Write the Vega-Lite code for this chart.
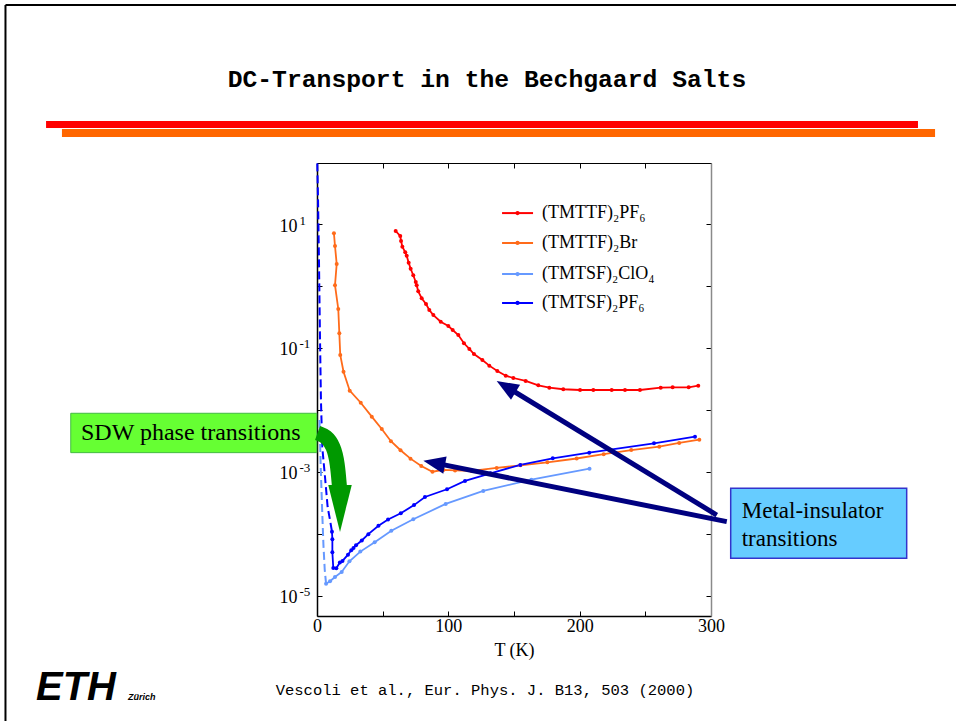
{
  "$schema": "https://vega.github.io/schema/vega-lite/v6.json",
  "width": 394,
  "height": 453,
  "autosize": {"type": "none"},
  "padding": {"left": 317, "top": 163, "right": 245, "bottom": 105},
  "background": "white",
  "config": {"view": {"stroke": null}, "font": "Liberation Serif"},
  "datasets": {
    "curves": [
      {"series": "(TMTTF)₂PF₆", "T": 59.9, "R": 7.71}, {"series": "(TMTTF)₂PF₆", "T": 63.4, "R": 6.40}, {"series": "(TMTTF)₂PF₆", "T": 64.0, "R": 5.32}, {"series": "(TMTTF)₂PF₆", "T": 65.0, "R": 4.31}, {"series": "(TMTTF)₂PF₆", "T": 67.2, "R": 3.50}, {"series": "(TMTTF)₂PF₆", "T": 68.3, "R": 3.08}, {"series": "(TMTTF)₂PF₆", "T": 69.8, "R": 2.38}, {"series": "(TMTTF)₂PF₆", "T": 71.3, "R": 1.90}, {"series": "(TMTTF)₂PF₆", "T": 73.3, "R": 1.49}, {"series": "(TMTTF)₂PF₆", "T": 75.2, "R": 1.16}, {"series": "(TMTTF)₂PF₆", "T": 75.9, "R": 1.03}, {"series": "(TMTTF)₂PF₆", "T": 77.1, "R": 0.820}, {"series": "(TMTTF)₂PF₆", "T": 79.7, "R": 0.634}, {"series": "(TMTTF)₂PF₆", "T": 83.0, "R": 0.513}, {"series": "(TMTTF)₂PF₆", "T": 85.5, "R": 0.410}, {"series": "(TMTTF)₂PF₆", "T": 88.6, "R": 0.340}, {"series": "(TMTTF)₂PF₆", "T": 94.2, "R": 0.265}, {"series": "(TMTTF)₂PF₆", "T": 100.0, "R": 0.226}, {"series": "(TMTTF)₂PF₆", "T": 103.3, "R": 0.195}, {"series": "(TMTTF)₂PF₆", "T": 107.6, "R": 0.162}, {"series": "(TMTTF)₂PF₆", "T": 111.9, "R": 0.119}, {"series": "(TMTTF)₂PF₆", "T": 116.0, "R": 0.0964}, {"series": "(TMTTF)₂PF₆", "T": 119.5, "R": 0.080}, {"series": "(TMTTF)₂PF₆", "T": 125.9, "R": 0.064}, {"series": "(TMTTF)₂PF₆", "T": 131.2, "R": 0.0519}, {"series": "(TMTTF)₂PF₆", "T": 137.3, "R": 0.0426}, {"series": "(TMTTF)₂PF₆", "T": 143.7, "R": 0.0357}, {"series": "(TMTTF)₂PF₆", "T": 149.5, "R": 0.0328}, {"series": "(TMTTF)₂PF₆", "T": 158.9, "R": 0.0294}, {"series": "(TMTTF)₂PF₆", "T": 168.5, "R": 0.0250}, {"series": "(TMTTF)₂PF₆", "T": 176.9, "R": 0.0229}, {"series": "(TMTTF)₂PF₆", "T": 187.5, "R": 0.0216}, {"series": "(TMTTF)₂PF₆", "T": 200.3, "R": 0.0210}, {"series": "(TMTTF)₂PF₆", "T": 210.4, "R": 0.0210}, {"series": "(TMTTF)₂PF₆", "T": 224.4, "R": 0.0210}, {"series": "(TMTTF)₂PF₆", "T": 234.5, "R": 0.0210}, {"series": "(TMTTF)₂PF₆", "T": 245.9, "R": 0.0210}, {"series": "(TMTTF)₂PF₆", "T": 261.7, "R": 0.0229}, {"series": "(TMTTF)₂PF₆", "T": 270.8, "R": 0.0232}, {"series": "(TMTTF)₂PF₆", "T": 283.0, "R": 0.0232}, {"series": "(TMTTF)₂PF₆", "T": 290.3, "R": 0.0247},
      {"series": "(TMTTF)₂Br", "T": 12.9, "R": 7.08}, {"series": "(TMTTF)₂Br", "T": 13.7, "R": 4.42}, {"series": "(TMTTF)₂Br", "T": 15.0, "R": 2.26}, {"series": "(TMTTF)₂Br", "T": 13.7, "R": 1.03}, {"series": "(TMTTF)₂Br", "T": 16.2, "R": 0.426}, {"series": "(TMTTF)₂Br", "T": 17.0, "R": 0.173}, {"series": "(TMTTF)₂Br", "T": 17.7, "R": 0.0771}, {"series": "(TMTTF)₂Br", "T": 20.2, "R": 0.0415}, {"series": "(TMTTF)₂Br", "T": 24.9, "R": 0.0205}, {"series": "(TMTTF)₂Br", "T": 33.3, "R": 0.0131}, {"series": "(TMTTF)₂Br", "T": 41.7, "R": 0.0078}, {"series": "(TMTTF)₂Br", "T": 49.3, "R": 0.00494}, {"series": "(TMTTF)₂Br", "T": 56.3, "R": 0.00314}, {"series": "(TMTTF)₂Br", "T": 63.6, "R": 0.00224}, {"series": "(TMTTF)₂Br", "T": 71.2, "R": 0.00164}, {"series": "(TMTTF)₂Br", "T": 79.4, "R": 0.00125}, {"series": "(TMTTF)₂Br", "T": 87.9, "R": 0.00101}, {"series": "(TMTTF)₂Br", "T": 96.2, "R": 0.00108}, {"series": "(TMTTF)₂Br", "T": 105.1, "R": 0.00106}, {"series": "(TMTTF)₂Br", "T": 117.8, "R": 0.00104}, {"series": "(TMTTF)₂Br", "T": 136.8, "R": 0.00116}, {"series": "(TMTTF)₂Br", "T": 155.0, "R": 0.00128}, {"series": "(TMTTF)₂Br", "T": 175.4, "R": 0.00143}, {"series": "(TMTTF)₂Br", "T": 197.7, "R": 0.00165}, {"series": "(TMTTF)₂Br", "T": 218.3, "R": 0.00194}, {"series": "(TMTTF)₂Br", "T": 239.3, "R": 0.00226}, {"series": "(TMTTF)₂Br", "T": 260.6, "R": 0.00256}, {"series": "(TMTTF)₂Br", "T": 275.8, "R": 0.00294}, {"series": "(TMTTF)₂Br", "T": 291.1, "R": 0.00332},
      {"series": "(TMTSF)₂ClO₄", "T": 6.9, "R": 1.58e-5}, {"series": "(TMTSF)₂ClO₄", "T": 9.9, "R": 1.73e-5}, {"series": "(TMTSF)₂ClO₄", "T": 13.7, "R": 2.02e-5}, {"series": "(TMTSF)₂ClO₄", "T": 18.8, "R": 2.44e-5}, {"series": "(TMTSF)₂ClO₄", "T": 24.7, "R": 3.63e-5}, {"series": "(TMTSF)₂ClO₄", "T": 33.0, "R": 5.19e-5}, {"series": "(TMTSF)₂ClO₄", "T": 43.9, "R": 7.38e-5}, {"series": "(TMTSF)₂ClO₄", "T": 56.6, "R": 1.13e-4}, {"series": "(TMTSF)₂ClO₄", "T": 73.3, "R": 1.73e-4}, {"series": "(TMTSF)₂ClO₄", "T": 98.0, "R": 3.05e-4}, {"series": "(TMTSF)₂ClO₄", "T": 126.6, "R": 4.94e-4}, {"series": "(TMTSF)₂ClO₄", "T": 163.2, "R": 7.52e-4}, {"series": "(TMTSF)₂ClO₄", "T": 207.5, "R": 1.13e-3},
      {"series": "(TMTSF)₂PF₆", "T": 11.4, "R": 1.09e-4}, {"series": "(TMTSF)₂PF₆", "T": 11.7, "R": 8.22e-5}, {"series": "(TMTSF)₂PF₆", "T": 11.7, "R": 5.07e-5}, {"series": "(TMTSF)₂PF₆", "T": 12.4, "R": 2.83e-5}, {"series": "(TMTSF)₂PF₆", "T": 14.7, "R": 2.80e-5}, {"series": "(TMTSF)₂PF₆", "T": 17.4, "R": 3.47e-5}, {"series": "(TMTSF)₂PF₆", "T": 19.4, "R": 3.67e-5}, {"series": "(TMTSF)₂PF₆", "T": 23.6, "R": 4.64e-5}, {"series": "(TMTSF)₂PF₆", "T": 26.1, "R": 5.46e-5}, {"series": "(TMTSF)₂PF₆", "T": 27.8, "R": 5.94e-5}, {"series": "(TMTSF)₂PF₆", "T": 29.7, "R": 6.57e-5}, {"series": "(TMTSF)₂PF₆", "T": 34.1, "R": 7.85e-5}, {"series": "(TMTSF)₂PF₆", "T": 39.1, "R": 9.93e-5}, {"series": "(TMTSF)₂PF₆", "T": 46.8, "R": 1.36e-4}, {"series": "(TMTSF)₂PF₆", "T": 54.1, "R": 1.71e-4}, {"series": "(TMTSF)₂PF₆", "T": 63.8, "R": 2.16e-4}, {"series": "(TMTSF)₂PF₆", "T": 73.9, "R": 2.92e-4}, {"series": "(TMTSF)₂PF₆", "T": 82.2, "R": 3.95e-4}, {"series": "(TMTSF)₂PF₆", "T": 99.0, "R": 5.26e-4}, {"series": "(TMTSF)₂PF₆", "T": 112.7, "R": 7.16e-4}, {"series": "(TMTSF)₂PF₆", "T": 132.1, "R": 9.53e-4}, {"series": "(TMTSF)₂PF₆", "T": 154.8, "R": 1.30e-3}, {"series": "(TMTSF)₂PF₆", "T": 179.5, "R": 1.66e-3}, {"series": "(TMTSF)₂PF₆", "T": 207.3, "R": 2.05e-3}, {"series": "(TMTSF)₂PF₆", "T": 256.6, "R": 2.90e-3}, {"series": "(TMTSF)₂PF₆", "T": 287.8, "R": 3.71e-3}
    ],
    "dashed": [
      {"series": "(TMTSF)₂PF₆", "T": 0.2, "R": 95}, {"series": "(TMTSF)₂PF₆", "T": 0.8, "R": 24.4}, {"series": "(TMTSF)₂PF₆", "T": 1.5, "R": 2.6}, {"series": "(TMTSF)₂PF₆", "T": 2.3, "R": 0.135}, {"series": "(TMTSF)₂PF₆", "T": 3.0, "R": 0.0145}, {"series": "(TMTSF)₂PF₆", "T": 4.0, "R": 2.53e-3}, {"series": "(TMTSF)₂PF₆", "T": 6.1, "R": 8.3e-4}, {"series": "(TMTSF)₂PF₆", "T": 8.1, "R": 2.72e-4}, {"series": "(TMTSF)₂PF₆", "T": 9.9, "R": 1.68e-4}, {"series": "(TMTSF)₂PF₆", "T": 11.4, "R": 1.09e-4},
      {"series": "(TMTSF)₂ClO₄", "T": 1.9, "R": 6.9e-3}, {"series": "(TMTSF)₂ClO₄", "T": 2.9, "R": 1.08e-3}, {"series": "(TMTSF)₂ClO₄", "T": 4.0, "R": 2.18e-4}, {"series": "(TMTSF)₂ClO₄", "T": 4.9, "R": 6.65e-5}, {"series": "(TMTSF)₂ClO₄", "T": 5.9, "R": 2.62e-5}, {"series": "(TMTSF)₂ClO₄", "T": 6.9, "R": 1.58e-5}
    ],
    "legendRows": [
      {"series": "(TMTTF)₂PF₆", "T": 140.9, "T2": 164.5, "Tm": 152.7, "Tl": 171.3, "R": 15.0},
      {"series": "(TMTTF)₂Br", "T": 140.9, "T2": 164.5, "Tm": 152.7, "Tl": 171.3, "R": 4.94},
      {"series": "(TMTSF)₂ClO₄", "T": 140.9, "T2": 164.5, "Tm": 152.7, "Tl": 171.3, "R": 1.56},
      {"series": "(TMTSF)₂PF₆", "T": 140.9, "T2": 164.5, "Tm": 152.7, "Tl": 171.3, "R": 0.532}
    ]
  },
  "encoding": {
    "x": {"field": "T", "type": "quantitative", "scale": {"domain": [0, 300], "nice": false, "zero": false}, "axis": null},
    "y": {"field": "R", "type": "quantitative", "scale": {"type": "log", "domain": [4.75e-6, 96.4], "nice": false}, "axis": null}
  },
  "layer": [
    {
      "data": {"values": [
        {"T": -237.2, "T2": -237.2, "R": 34000, "R2": 9.6e-8},
        {"T": -237.2, "T2": 486.6, "R": 34000, "R2": 34000}
      ]},
      "mark": {"type": "rule", "color": "black", "strokeWidth": 2},
      "encoding": {"x2": {"field": "T2"}, "y2": {"field": "R2"}}
    },
    {
      "data": {"values": [{"T": -206.3, "T2": 457.6, "R": 402.7}]},
      "mark": {"type": "rule", "color": "#ff0000", "strokeWidth": 7, "strokeCap": "butt"},
      "encoding": {"x2": {"field": "T2"}}
    },
    {
      "data": {"values": [{"T": -194.2, "T2": 470.6, "R": 293.7}]},
      "mark": {"type": "rule", "color": "#ff6600", "strokeWidth": 8, "strokeCap": "butt"},
      "encoding": {"x2": {"field": "T2"}}
    },
    {
      "data": {"name": "dashed"},
      "mark": {"type": "line", "strokeDash": [8, 4], "strokeWidth": 2},
      "encoding": {
        "x": {"field": "T", "type": "quantitative", "scale": {"domain": [0, 300], "nice": false, "zero": false},
              "axis": {"orient": "top", "values": [0, 50, 100, 150, 200, 250, 300], "labels": false, "title": null, "tickSize": -5, "tickColor": "black", "domainColor": "black", "domainWidth": 1.2, "grid": false}},
        "y": {"field": "R", "type": "quantitative", "scale": {"type": "log", "domain": [4.75e-6, 96.4], "nice": false},
              "axis": {"orient": "right", "values": [10, 1, 0.1, 0.01, 0.001, 0.0001, 0.00001], "labels": false, "title": null, "tickSize": -5, "tickColor": "black", "domainColor": "#8a8a8a", "domainWidth": 1.5, "grid": false}},
        "stroke": {"field": "series", "type": "nominal", "legend": null,
                  "scale": {"domain": ["(TMTTF)₂PF₆", "(TMTTF)₂Br", "(TMTSF)₂ClO₄", "(TMTSF)₂PF₆"], "range": ["#ff0000", "#ff6b1a", "#6699ff", "#0000ff"]}},
        "order": {"value": null}
      }
    },
    {
      "data": {"name": "curves"},
      "mark": {"type": "line", "strokeWidth": 1.8},
      "encoding": {
        "x": {"field": "T", "type": "quantitative", "scale": {"domain": [0, 300], "nice": false, "zero": false},
              "axis": {"orient": "bottom", "values": [0, 50, 100, 150, 200, 250, 300], "labelExpr": "datum.value % 100 === 0 ? datum.label : ''",
                       "title": "T (K)", "titleFont": "Liberation Serif", "titleFontSize": 18, "titleFontWeight": "normal", "titleColor": "black", "titlePadding": 6,
                       "labelFont": "Liberation Serif", "labelFontSize": 18, "labelColor": "black", "labelPadding": 6, "labelFlush": false, "labelOverlap": false,
                       "tickSize": -5, "tickColor": "black", "domainColor": "black", "domainWidth": 1.5, "grid": false}},
        "y": {"field": "R", "type": "quantitative", "scale": {"type": "log", "domain": [4.75e-6, 96.4], "nice": false},
              "axis": {"orient": "left", "values": [10, 1, 0.1, 0.01, 0.001, 0.0001, 0.00001],
                       "labelExpr": "abs(round(log(datum.value)/LN10)) % 2 === 1 ? '10' : ''",
                       "title": null, "labelFont": "Liberation Serif", "labelFontSize": 18, "labelColor": "black", "labelPadding": 43, "labelAlign": "left", "labelOffset": 2, "labelFlush": false, "labelOverlap": false,
                       "tickSize": -5, "tickColor": "black", "domainColor": "black", "domainWidth": 1.5, "grid": false}},
        "color": {"field": "series", "type": "nominal", "legend": null,
                  "scale": {"domain": ["(TMTTF)₂PF₆", "(TMTTF)₂Br", "(TMTSF)₂ClO₄", "(TMTSF)₂PF₆"], "range": ["#ff0000", "#ff6b1a", "#6699ff", "#0000ff"]}},
        "order": {"value": null}
      }
    },
    {
      "data": {"name": "curves"},
      "mark": {"type": "point", "filled": true, "size": 16, "opacity": 1},
      "encoding": {
        "y": {"field": "R", "type": "quantitative", "scale": {"type": "log", "domain": [4.75e-6, 96.4], "nice": false},
              "axis": {"orient": "left", "values": [10, 0.1, 0.001, 0.00001],
                       "labelExpr": "round(log(datum.value)/LN10) === 1 ? '1' : '-' + abs(round(log(datum.value)/LN10))",
                       "title": null, "labelFont": "Liberation Serif", "labelFontSize": 13, "labelColor": "black", "labelPadding": 18, "labelAlign": "left", "labelOffset": -4, "labelFlush": false, "labelOverlap": false,
                       "ticks": false, "domain": false, "grid": false}},
        "fill": {"field": "series", "type": "nominal", "legend": null,
                  "scale": {"domain": ["(TMTTF)₂PF₆", "(TMTTF)₂Br", "(TMTSF)₂ClO₄", "(TMTSF)₂PF₆"], "range": ["#ff0000", "#ff6b1a", "#6699ff", "#0000ff"]}}
      }
    },
    {
      "data": {"name": "legendRows"},
      "mark": {"type": "rule", "strokeWidth": 2},
      "encoding": {
        "x2": {"field": "T2"},
        "color": {"field": "series", "type": "nominal", "legend": null,
                  "scale": {"domain": ["(TMTTF)₂PF₆", "(TMTTF)₂Br", "(TMTSF)₂ClO₄", "(TMTSF)₂PF₆"], "range": ["#ff0000", "#ff6b1a", "#6699ff", "#0000ff"]}}
      }
    },
    {
      "data": {"name": "legendRows"},
      "mark": {"type": "point", "filled": true, "size": 18, "opacity": 1},
      "encoding": {
        "x": {"field": "Tm", "type": "quantitative", "scale": {"domain": [0, 300], "nice": false, "zero": false}, "axis": null},
        "fill": {"field": "series", "type": "nominal", "legend": null,
                  "scale": {"domain": ["(TMTTF)₂PF₆", "(TMTTF)₂Br", "(TMTSF)₂ClO₄", "(TMTSF)₂PF₆"], "range": ["#ff0000", "#ff6b1a", "#6699ff", "#0000ff"]}}
      }
    },
    {
      "data": {"name": "legendRows"},
      "mark": {"type": "text", "align": "left", "baseline": "middle", "font": "Liberation Serif", "fontSize": 18, "color": "black"},
      "encoding": {
        "x": {"field": "Tl", "type": "quantitative", "scale": {"domain": [0, 300], "nice": false, "zero": false}, "axis": null},
        "text": {"field": "series"}
      }
    },
    {
      "data": {"values": [{"T": -187.5, "T2": -0.2, "R": 8.85e-3, "R2": 2.05e-3}]},
      "mark": {"type": "rect", "fill": "#66ff33", "stroke": "#44bb44", "strokeWidth": 1},
      "encoding": {"x2": {"field": "T2"}, "y2": {"field": "R2"}}
    },
    {
      "data": {"values": [{"label": "SDW phase transitions", "T": -179.7, "R": 4.26e-3}]},
      "mark": {"type": "text", "align": "left", "baseline": "middle", "font": "Liberation Serif", "fontSize": 24, "color": "black"},
      "encoding": {"text": {"field": "label"}}
    },
    {
      "data": {"values": [{"T": 315.0, "T2": 449.0, "R": 5.46e-4, "R2": 4.06e-5}]},
      "mark": {"type": "rect", "fill": "#66ccff", "stroke": "#3333cc", "strokeWidth": 1.5},
      "encoding": {"x2": {"field": "T2"}, "y2": {"field": "R2"}}
    },
    {
      "data": {"values": [{"label": "Metal-insulator\ntransitions", "T": 323.4, "R": 1.79e-4}]},
      "mark": {"type": "text", "align": "left", "baseline": "alphabetic", "font": "Liberation Serif", "fontSize": 23, "lineHeight": 28, "lineBreak": "\n", "color": "black"},
      "encoding": {"text": {"field": "label"}}
    },
    {
      "data": {"values": [
        {"arrow": "a", "T": 304.4, "R": 2.02e-4}, {"arrow": "a", "T": 144.0, "R": 0.0238},
        {"arrow": "b", "T": 312.0, "R": 1.58e-4}, {"arrow": "b", "T": 89.2, "R": 1.40e-3}
      ]},
      "mark": {"type": "line", "color": "#000080", "strokeWidth": 5, "strokeCap": "butt"},
      "encoding": {"detail": {"field": "arrow"}, "order": {"value": null}}
    },
    {
      "data": {"values": [{"T": 144.0, "R": 0.0238}]},
      "mark": {"type": "point", "shape": "M0,-1L0.8,1L-0.8,1Z", "filled": true, "color": "#000080", "opacity": 1, "size": 484, "angle": 301},
      "encoding": {}
    },
    {
      "data": {"values": [{"T": 89.2, "R": 1.40e-3}]},
      "mark": {"type": "point", "shape": "M0,-1L0.8,1L-0.8,1Z", "filled": true, "color": "#000080", "opacity": 1, "size": 484, "angle": 281},
      "encoding": {}
    },
    {
      "data": {"values": [
        {"T": 0.4, "R": 4.26e-3}, {"T": 6.9, "R": 3.81e-3}, {"T": 12.6, "R": 2.62e-3}, {"T": 15.6, "R": 1.40e-3}, {"T": 17.1, "R": 5.73e-4}
      ]},
      "mark": {"type": "line", "color": "#009900", "strokeWidth": 15, "strokeCap": "butt", "interpolate": "basis"},
      "encoding": {"order": {"value": null}}
    },
    {
      "data": {"values": [{"T": 17.5, "R": 2.58e-4}]},
      "mark": {"type": "point", "shape": "M-0.5,-1L0.5,-1L0,1Z", "filled": true, "color": "#009900", "opacity": 1, "size": 2209},
      "encoding": {}
    },
    {
      "data": {"values": [{"label": "DC-Transport in the Bechgaard Salts", "T": 129.4, "R": 2100}]},
      "mark": {"type": "text", "align": "center", "baseline": "middle", "font": "Liberation Mono", "fontWeight": "bold", "fontSize": 24.7, "color": "black"},
      "encoding": {"text": {"field": "label"}}
    },
    {
      "data": {"values": [{"label": "Vescoli et al., Eur. Phys. J. B13, 503 (2000)", "T": 127.9, "R": 3.05e-7}]},
      "mark": {"type": "text", "align": "center", "baseline": "middle", "font": "Liberation Mono", "fontSize": 15.5, "color": "black"},
      "encoding": {"text": {"field": "label"}}
    },
    {
      "data": {"values": [{"label": "ETH", "T": -214.0, "R": 2.1e-7}]},
      "mark": {"type": "text", "align": "left", "baseline": "alphabetic", "font": "Liberation Sans", "fontWeight": "bold", "fontStyle": "italic", "fontSize": 40, "color": "black"},
      "encoding": {"text": {"field": "label"}}
    },
    {
      "data": {"values": [{"label": "Zürich", "T": -143.9, "R": 2.1e-7}]},
      "mark": {"type": "text", "align": "left", "baseline": "alphabetic", "font": "Liberation Sans", "fontWeight": "bold", "fontStyle": "italic", "fontSize": 9, "color": "black"},
      "encoding": {"text": {"field": "label"}}
    }
  ],
  "resolve": {"axis": {"x": "independent", "y": "independent"}}
}
